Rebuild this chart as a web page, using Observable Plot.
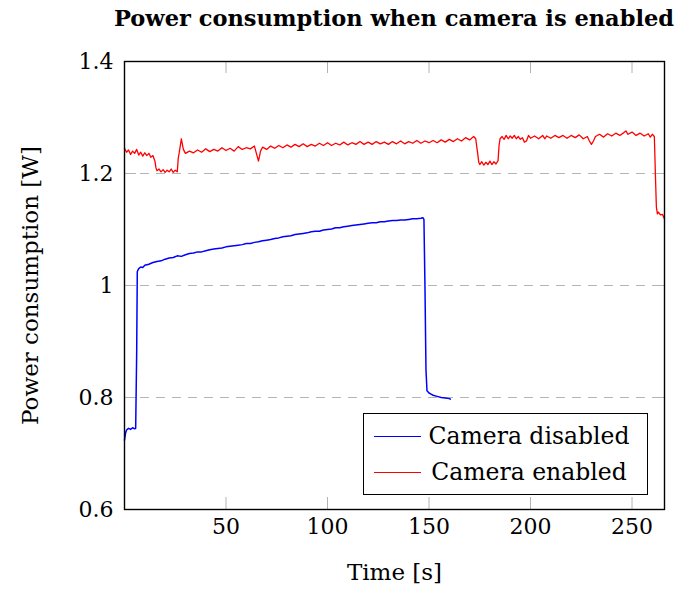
<!DOCTYPE html>
<html>
<head>
<meta charset="utf-8">
<script src="https://cdn.jsdelivr.net/npm/d3@7"></script>
<script src="https://cdn.jsdelivr.net/npm/@observablehq/plot@0.6"></script>
<style>
  html, body { margin: 0; padding: 0; background: #fff; }
  #wrap { position: relative; width: 684px; height: 593px; font-family: "DejaVu Serif", serif; }
  #title { position: absolute; left: 104px; width: 580px; top: 0; height: 40px; line-height: 37px; text-align: center; font-weight: bold; font-size: 22.5px; white-space: nowrap; }
  #chart { position: absolute; left: 0; top: 40px; }
  #legend { position: absolute; left: 363px; top: 413px; width: 283px; height: 80px; border: 1.3px solid #000; background: #fff; }
  .lg-line { position: absolute; left: 10px; width: 47px; height: 0; border-top: 1.3px solid; }
  .lg-text { position: absolute; left: 60px; width: 210px; text-align: center; font-size: 23.5px; line-height: 30px; white-space: nowrap; }
</style>
</head>
<body>
<div id="wrap">
  <div id="title">Power consumption when camera is enabled</div>
  <div id="chart"></div>
  <div id="legend"></div>
</div>
<script>
// ---- data ----
const title = "Power consumption when camera is enabled";
const xLabel = "Time [s]";
const yLabel = "Power consumption [W]";
const xTicks = [50, 100, 150, 200, 250];
const yTicks = [0.6, 0.8, 1.0, 1.2, 1.4];
const gridValues = [0.8, 1.0, 1.2];
const xDomain = [0, 266];
const yDomain = [0.6, 1.4];
const seriesNames = ["Camera disabled", "Camera enabled"];
const seriesColors = ["#0000ff", "#ff0000"];

const disabledTime = [0, 0.5, 1, 2, 3, 4, 5, 5.5, 6, 6.3, 7, 8, 9, 10, 12, 14, 16, 18, 20, 22, 24, 26, 28, 30, 32, 34, 36, 38, 40, 42, 44, 46, 48, 50, 52, 54, 56, 58, 60, 62, 64, 66, 68, 70, 72, 74, 76, 78, 80, 82, 84, 86, 88, 90, 92, 94, 96, 98, 100, 102, 104, 106, 108, 110, 112, 114, 116, 118, 120, 122, 124, 126, 128, 130, 132, 134, 136, 138, 140, 142, 144, 146, 147, 147.5, 148, 148.5, 149, 150, 151, 152, 154, 156, 158, 160, 160.5];
const disabledPower = [0.724, 0.736, 0.742, 0.745, 0.743, 0.746, 0.744, 0.745, 0.880, 1.025, 1.030, 1.033, 1.032, 1.036, 1.038, 1.041, 1.043, 1.044, 1.047, 1.049, 1.050, 1.053, 1.052, 1.055, 1.057, 1.058, 1.060, 1.060, 1.062, 1.064, 1.065, 1.066, 1.067, 1.069, 1.070, 1.071, 1.072, 1.073, 1.075, 1.075, 1.077, 1.078, 1.080, 1.081, 1.082, 1.084, 1.085, 1.087, 1.088, 1.089, 1.091, 1.092, 1.093, 1.094, 1.096, 1.097, 1.097, 1.099, 1.100, 1.101, 1.103, 1.103, 1.105, 1.106, 1.107, 1.108, 1.109, 1.110, 1.111, 1.112, 1.112, 1.114, 1.114, 1.115, 1.116, 1.116, 1.117, 1.117, 1.118, 1.119, 1.119, 1.120, 1.121, 1.118, 1.000, 0.850, 0.812, 0.808, 0.806, 0.804, 0.802, 0.800, 0.799, 0.798, 0.797];

const enabledTime = [0, 1, 2, 3, 4, 5, 6, 7, 8, 9, 10, 11, 12, 13, 14, 15, 15.5, 16, 17, 18, 19, 20, 21, 22, 23, 24, 25, 26, 26.5, 27, 28, 29, 30, 32, 34, 36, 38, 40, 42, 44, 46, 48, 50, 52, 54, 56, 58, 60, 62, 64, 66, 67, 68, 70, 72, 74, 76, 78, 80, 82, 84, 86, 88, 90, 92, 94, 96, 98, 100, 102, 104, 106, 108, 110, 112, 114, 116, 118, 120, 122, 124, 126, 128, 130, 132, 134, 136, 138, 140, 142, 144, 146, 148, 150, 152, 154, 156, 158, 160, 162, 164, 166, 168, 170, 172, 173, 174, 174.5, 175, 176, 177, 178, 179, 180, 181, 182, 183, 184, 184.5, 185, 186, 187, 188, 189, 190, 191, 192, 193, 194, 195, 196, 197, 198, 199, 200, 202, 204, 206, 207, 208, 210, 212, 214, 216, 218, 220, 222, 224, 226, 228, 229, 230, 231, 232, 234, 236, 238, 240, 242, 244, 246, 247, 248, 250, 252, 254, 256, 258, 259, 260, 261, 261.5, 262, 262.5, 263, 264, 265, 266];
const enabledPower = [1.245, 1.238, 1.242, 1.234, 1.240, 1.236, 1.243, 1.233, 1.238, 1.231, 1.237, 1.232, 1.236, 1.229, 1.232, 1.222, 1.210, 1.205, 1.208, 1.203, 1.207, 1.202, 1.206, 1.203, 1.208, 1.202, 1.206, 1.203, 1.228, 1.238, 1.262, 1.243, 1.236, 1.240, 1.237, 1.242, 1.238, 1.244, 1.239, 1.243, 1.240, 1.246, 1.241, 1.245, 1.240, 1.248, 1.243, 1.246, 1.244, 1.249, 1.222, 1.240, 1.247, 1.243, 1.249, 1.245, 1.250, 1.246, 1.251, 1.247, 1.252, 1.248, 1.253, 1.248, 1.252, 1.249, 1.254, 1.250, 1.255, 1.250, 1.254, 1.251, 1.256, 1.251, 1.255, 1.252, 1.257, 1.252, 1.256, 1.252, 1.257, 1.253, 1.256, 1.252, 1.257, 1.253, 1.258, 1.253, 1.257, 1.254, 1.259, 1.254, 1.258, 1.255, 1.259, 1.255, 1.260, 1.256, 1.261, 1.257, 1.262, 1.258, 1.264, 1.260, 1.266, 1.262, 1.235, 1.220, 1.216, 1.221, 1.215, 1.220, 1.216, 1.222, 1.216, 1.221, 1.217, 1.223, 1.250, 1.262, 1.266, 1.261, 1.268, 1.262, 1.267, 1.263, 1.268, 1.262, 1.266, 1.261, 1.264, 1.256, 1.258, 1.268, 1.263, 1.267, 1.262, 1.268, 1.262, 1.267, 1.263, 1.268, 1.264, 1.268, 1.263, 1.268, 1.264, 1.269, 1.262, 1.266, 1.258, 1.252, 1.258, 1.266, 1.270, 1.265, 1.271, 1.267, 1.272, 1.268, 1.273, 1.276, 1.270, 1.274, 1.268, 1.272, 1.267, 1.271, 1.265, 1.270, 1.266, 1.200, 1.140, 1.128, 1.131, 1.126, 1.127, 1.119];

// ---- build table ----
const disabled = disabledTime.map((t, i) => ({t, p: disabledPower[i], s: seriesNames[0]}));
const enabled = enabledTime.map((t, i) => ({t, p: enabledPower[i], s: seriesNames[1]}));

const W = 684, H = 553;
const mL = 124, mR = 20, mT = 21, mB = 84;
const frameW = W - mL - mR, frameH = H - mT - mB;
const tickLen = 12;
const tickColor = "#b3b3b3";

const chart = Plot.plot({
  width: W,
  height: H,
  marginLeft: mL,
  marginRight: mR,
  marginTop: mT,
  marginBottom: mB,
  style: {fontFamily: "DejaVu Serif", fontSize: "21px", color: "#000", background: "#fff"},
  x: {domain: xDomain, label: null},
  y: {domain: yDomain, label: null},
  marks: [
    Plot.ruleY(gridValues, {stroke: tickColor, strokeWidth: 1.1, strokeDasharray: "9,7"}),
    Plot.tickX(xTicks, {x: d => d, insetTop: frameH - tickLen, stroke: tickColor, strokeWidth: 1}),
    Plot.tickX(xTicks, {x: d => d, insetBottom: frameH - tickLen, stroke: tickColor, strokeWidth: 1}),
    Plot.tickY(yTicks, {y: d => d, insetRight: frameW - tickLen, stroke: tickColor, strokeWidth: 1}),
    Plot.tickY(yTicks, {y: d => d, insetLeft: frameW - tickLen, stroke: tickColor, strokeWidth: 1}),
    Plot.line(enabled, {x: "t", y: "p", stroke: seriesColors[1], strokeWidth: 1.3}),
    Plot.line(disabled, {x: "t", y: "p", stroke: seriesColors[0], strokeWidth: 1.5}),
    Plot.frame({stroke: "#000", strokeWidth: 1.4}),
    Plot.axisX({ticks: xTicks, tickSize: 0, tickPadding: 9, fontSize: 22, tickFormat: d => String(d)}),
    Plot.axisY({ticks: yTicks, tickSize: 0, tickPadding: 11, fontSize: 22, tickFormat: d => String(d)}),
    Plot.text([xLabel], {frameAnchor: "bottom", dy: 63, fontSize: 23, lineAnchor: "middle", textAnchor: "middle"}),
    Plot.text([yLabel], {frameAnchor: "left", dx: -94, rotate: -90, fontSize: 23, lineAnchor: "middle", textAnchor: "middle"})
  ]
});
document.getElementById("chart").appendChild(chart);

// ---- legend ----
const legend = document.getElementById("legend");
const rowCenters = [22, 58];
seriesNames.forEach((name, i) => {
  const line = document.createElement("div");
  line.className = "lg-line";
  line.style.top = rowCenters[i] + "px";
  line.style.borderTopColor = seriesColors[i];
  legend.appendChild(line);
  const txt = document.createElement("div");
  txt.className = "lg-text";
  txt.style.top = (rowCenters[i] - 15) + "px";
  txt.textContent = name;
  legend.appendChild(txt);
});
</script>
</body>
</html>
